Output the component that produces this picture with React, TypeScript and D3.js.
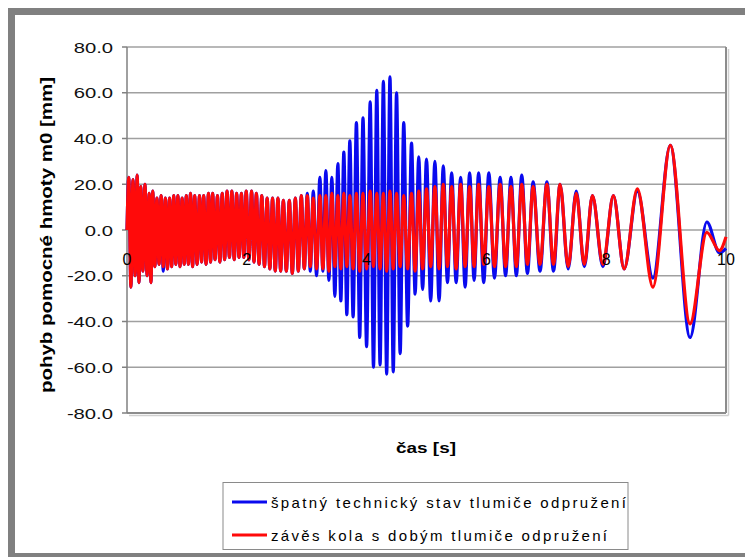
import React from "react";
import * as d3 from "d3";

// time [s] of each local maximum / minimum
const peakT = [0.03, 0.10, 0.17, 0.23, 0.30, 0.37, 0.43, 0.50, 0.57, 0.64, 0.71, 0.78, 0.85, 0.92, 0.99, 1.06, 1.13, 1.21, 1.28, 1.36,
  1.43, 1.51, 1.59, 1.67, 1.75, 1.83, 1.91, 1.99, 2.08, 2.16, 2.25, 2.34, 2.43, 2.52, 2.61, 2.71, 2.81, 2.91, 3.01, 3.11,
  3.22, 3.32, 3.42, 3.52, 3.62, 3.72, 3.83, 3.94, 4.06, 4.17, 4.28, 4.39, 4.50, 4.62, 4.75, 4.87, 5.00, 5.14, 5.28, 5.42,
  5.57, 5.72, 5.87, 6.04, 6.23, 6.41, 6.59, 6.78, 7.01, 7.23, 7.50, 7.77, 8.12, 8.52, 9.07, 9.68];
const troughT = [0.065, 0.135, 0.20, 0.265, 0.335, 0.40, 0.465, 0.535, 0.605, 0.675, 0.745, 0.815, 0.885, 0.955, 1.025, 1.095, 1.17, 1.245, 1.32, 1.395,
  1.47, 1.55, 1.63, 1.71, 1.79, 1.87, 1.95, 2.035, 2.12, 2.205, 2.295, 2.385, 2.475, 2.565, 2.66, 2.76, 2.86, 2.96, 3.06, 3.165,
  3.27, 3.37, 3.47, 3.57, 3.67, 3.775, 3.885, 4.0, 4.115, 4.225, 4.335, 4.445, 4.56, 4.685, 4.81, 4.935, 5.07, 5.21, 5.35, 5.495,
  5.645, 5.795, 5.955, 6.135, 6.32, 6.50, 6.685, 6.895, 7.12, 7.365, 7.635, 7.945, 8.30, 8.78, 9.40, 9.89];

// špatný technický stav (blue)
const bluePeaks = [23, 22, 24, 19, 20, 16, 17, 14, 15, 14, 14, 15, 15, 14, 15, 16, 15, 15, 15, 16,
  16, 15, 16, 17, 17, 16, 16, 17, 17, 16, 15, 14, 14, 14, 13, 13, 14, 15, 16, 17,
  23, 26, 23, 29, 34, 39, 47, 49, 56, 61, 65, 67, 60, 47, 38, 32, 31, 30, 28, 25,
  23, 25, 25, 25, 23, 23, 24, 21, 21, 20, 17, 15, 15, 17, 37, 3.5];
const blueTroughs = [-25, -20, -23, -18, -20, -23, -16, -15, -18, -17, -16, -15, -16, -15, -15, -16, -15, -14, -15, -14,
  -13, -14, -13, -12, -13, -12, -12, -13, -14, -15, -16, -17, -18, -18, -18, -19, -18, -17, -18, -20,
  -18, -22, -29, -31, -37, -38, -47, -51, -60, -59, -63, -62, -54, -42, -28, -26, -31, -31, -23, -23,
  -25, -22, -23, -21, -20, -20, -19, -18, -18, -17, -16, -16, -17, -21, -47, -10];
const blueEnds = [0, -8];

// závěs kola s dobrým tlumičem (red)
const redPeaks = [23, 22, 24, 19, 20, 16, 17, 14, 15, 14, 14, 15, 15, 14, 15, 16, 15, 15, 15, 16,
  16, 15, 16, 17, 17, 16, 16, 17, 17, 16, 15, 14, 14, 14, 13, 13, 14, 15, 15, 14,
  15, 15, 16, 15, 16, 15, 16, 16, 17, 16, 16, 17, 16, 15, 16, 17, 18, 19, 20, 19,
  20, 19, 20, 19, 20, 19, 20, 19, 20, 20, 16, 15, 15, 18, 37, -1];
const redTroughs = [-25, -20, -23, -18, -20, -23, -16, -15, -16, -17, -16, -15, -16, -15, -15, -16, -15, -14, -15, -14,
  -13, -14, -13, -12, -13, -12, -12, -13, -14, -15, -16, -17, -18, -18, -18, -19, -18, -17, -16, -17,
  -17, -18, -16, -17, -16, -17, -18, -17, -16, -17, -18, -17, -16, -17, -18, -17, -16, -17, -16, -17,
  -16, -16, -15, -16, -16, -16, -15, -15, -15, -16, -15, -15, -17, -25, -41, -9];
const redEnds = [0, -3];

const yTicks = [80, 60, 40, 20, 0, -20, -40, -60, -80];
const xTicks = [0, 2, 4, 6, 8, 10];
const legendNames = ["špatný technický stav tlumiče odpružení", "závěs kola s dobým tlumiče odpružení"];
const colors = ["#0a0aee", "#ff0a0a"];

const FONT = "'Liberation Sans', Arial, sans-serif";
const x = d3.scaleLinear().domain([0, 10]).range([127, 726]);
const y = d3.scaleLinear().domain([-80, 80]).range([413, 47]);

function buildSeries(peaks: number[], troughs: number[], ends: number[]) {
  const pts: [number, number][] = [[0, ends[0]]];
  peakT.forEach((t, i) => {
    pts.push([t, peaks[i]]);
    pts.push([troughT[i], troughs[i]]);
  });
  pts.push([10, ends[1]]);
  return pts;
}

const line = d3.line<[number, number]>()
  .x(d => x(d[0]))
  .y(d => y(d[1]))
  .curve(d3.curveMonotoneX);

export default function App() {
  const blue = buildSeries(bluePeaks, blueTroughs, blueEnds);
  const red = buildSeries(redPeaks, redTroughs, redEnds);
  return (
    <svg width={745} height={557} style={{ position: "absolute", left: 0, top: 0, background: "#fff" }} fontFamily={FONT}>
      {/* outer frame */}
      <rect x={11.5} y={11.5} width={800} height={545} fill="#fff" stroke="#808080" strokeWidth={7} />

      {/* grid */}
      {yTicks.map(v => (
        <line key={"g" + v} x1={x(0)} x2={x(10)} y1={y(v)} y2={y(v)} stroke="#a0a0a0" strokeWidth={1.5} />
      ))}
      <line x1={x(10) + 2.5} x2={x(10) + 2.5} y1={y(80) + 2} y2={y(-80) + 2.5} stroke="#cfcfcf" strokeWidth={1.5} />
      <line x1={x(0) + 2} x2={x(10) + 2.5} y1={y(-80) + 2.5} y2={y(-80) + 2.5} stroke="#cfcfcf" strokeWidth={1.5} />
      <line x1={x(10)} x2={x(10)} y1={y(80)} y2={y(-80)} stroke="#8c8c8c" strokeWidth={2} />
      <line x1={x(0)} x2={x(10)} y1={y(-80)} y2={y(-80)} stroke="#8c8c8c" strokeWidth={2} />

      {/* y axis */}
      <line x1={x(0)} x2={x(0)} y1={y(80)} y2={y(-80)} stroke="#808080" strokeWidth={1.5} />
      {yTicks.map(v => (
        <g key={"t" + v}>
          <line x1={x(0) - 5} x2={x(0)} y1={y(v)} y2={y(v)} stroke="#808080" strokeWidth={1.5} />
          <text transform={`translate(113,${y(v) + 5.5}) scale(1.35,1)`} textAnchor="end" fontSize={15} fill="#111">
            {v.toFixed(1)}
          </text>
        </g>
      ))}

      {/* series */}
      <path d={line(blue) || ""} fill="none" stroke={colors[0]} strokeWidth={3.2} strokeLinejoin="round" />
      <path d={line(red) || ""} fill="none" stroke={colors[1]} strokeWidth={3.2} strokeLinejoin="round" />

      {/* x tick labels */}
      {xTicks.map(v => (
        <text key={"x" + v} x={x(v)} y={265} textAnchor="middle" fontSize={16} fill="#000">{v}</text>
      ))}

      {/* axis titles */}
      <text x={426} y={453} textAnchor="middle" fontSize={15} fontWeight="bold" textLength={60} lengthAdjust="spacingAndGlyphs">čas [s]</text>
      <text transform="translate(52,235) rotate(-90)" textAnchor="middle" fontSize={16} fontWeight="bold" textLength={316} lengthAdjust="spacingAndGlyphs">
        pohyb pomocné hmoty m0 [mm]
      </text>

      {/* legend */}
      <rect x={223} y={482.5} width={405} height={67} fill="#fff" stroke="#8a8a8a" strokeWidth={1} />
      {legendNames.map((name, i) => (
        <g key={name} transform={`translate(0,${502 + i * 33})`}>
          <line x1={232} x2={267} y1={0} y2={0} stroke={colors[i]} strokeWidth={3} />
          <text x={271} y={5.5} fontSize={15} fill="#000" textLength={i === 0 ? 355 : 336} lengthAdjust="spacing">{name}</text>
        </g>
      ))}
    </svg>
  );
}
